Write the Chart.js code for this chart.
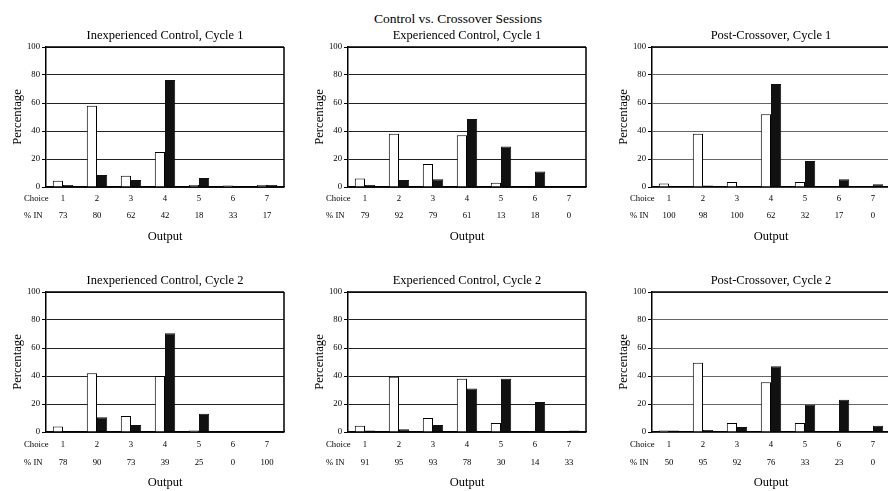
<!DOCTYPE html>
<html>
<head>
<meta charset="utf-8">
<script src="https://cdn.jsdelivr.net/npm/chart.js@4.4.0/dist/chart.umd.min.js"></script>
<style>
  html, body { margin: 0; padding: 0; background: #fff; overflow: hidden; }
  #wrap { position: relative; width: 888px; height: 491px; }
  .panel { position: absolute; }
  #main-title {
    position: absolute; left: 308px; width: 300px; top: 11px;
    text-align: center; font: 13.5px "Liberation Serif", serif; color: #000;
  }
</style>
</head>
<body>
<div id="wrap">
  <div id="main-title">Control vs. Crossover Sessions</div>
  <div class="panel" style="left:0px;top:25px;width:288px;height:220px"><canvas id="c1"></canvas></div>
  <div class="panel" style="left:302px;top:25px;width:288px;height:220px"><canvas id="c2"></canvas></div>
  <div class="panel" style="left:606px;top:25px;width:288px;height:220px"><canvas id="c3"></canvas></div>
  <div class="panel" style="left:0px;top:270px;width:288px;height:221px"><canvas id="c4"></canvas></div>
  <div class="panel" style="left:302px;top:270px;width:288px;height:221px"><canvas id="c5"></canvas></div>
  <div class="panel" style="left:606px;top:270px;width:288px;height:221px"><canvas id="c6"></canvas></div>
</div>
<script>
// ===== Data =====
const choices = ['1', '2', '3', '4', '5', '6', '7'];
const rowLabels = ['Choice', '% IN'];
const yTicks = [0, 20, 40, 60, 80, 100];

// Inexperienced Control, Cycle 1
const inexp1White = [4.5, 58, 8, 25, 1.5, 1, 1.5];
const inexp1Black = [1.5, 8.5, 5, 76.5, 6.5, 0.5, 1.5];
const inexp1PctIn = [73, 80, 62, 42, 18, 33, 17];

// Experienced Control, Cycle 1
const exp1White = [6, 38, 16.5, 37, 3, 0, 0];
const exp1Black = [1.5, 5, 5.5, 48.5, 29, 11, 0];
const exp1PctIn = [79, 92, 79, 61, 13, 18, 0];

// Post-Crossover, Cycle 1
const post1White = [2.5, 38, 3.5, 52, 3.5, 0, 0];
const post1Black = [0, 1, 0, 73.5, 18.5, 5.5, 2];
const post1PctIn = [100, 98, 100, 62, 32, 17, 0];

// Inexperienced Control, Cycle 2
const inexp2White = [4, 42, 11.5, 40, 1, 0.5, 0];
const inexp2Black = [0.5, 10.5, 5, 70.5, 13, 0.5, 0.5];
const inexp2PctIn = [78, 90, 73, 39, 25, 0, 100];

// Experienced Control, Cycle 2
const exp2White = [4.5, 39.5, 10, 38, 6.5, 0, 0.5];
const exp2Black = [1, 2, 5, 31, 38, 21.5, 1];
const exp2PctIn = [91, 95, 93, 78, 30, 14, 33];

// Post-Crossover, Cycle 2
const post2White = [1, 49.5, 6.5, 35.5, 6.5, 0, 0];
const post2Black = [1, 1.5, 3.5, 47, 19.5, 23, 4.5];
const post2PctIn = [50, 95, 92, 76, 33, 23, 0];

const FONT = '"Liberation Serif", "DejaVu Serif", serif';
const TICK_SIZE = 8.7;

// row layouts: spacing of the two label rows under each x axis
const row1 = { line: 17, pad: 3.5, height: 58 };
const row2 = { line: 18, pad: 4, height: 59 };

// draws the top and right edges of the plot box
const frameBox = {
  id: 'frameBox',
  afterDraw(chart) {
    const { ctx, chartArea: a } = chart;
    ctx.save();
    ctx.strokeStyle = '#000';
    ctx.lineWidth = 1.5;
    ctx.beginPath();
    ctx.moveTo(a.right, a.top);
    ctx.lineTo(a.right, a.bottom);
    ctx.moveTo(a.left, a.top);
    ctx.lineTo(a.right, a.top);
    ctx.stroke();
    ctx.restore();
  }
};

// row headers left of the x tick labels
const rowHeaders = {
  id: 'rowHeaders',
  afterDraw(chart, args, opts) {
    const { ctx, chartArea: a } = chart;
    const xs = chart.scales.x;
    ctx.save();
    ctx.fillStyle = '#000';
    ctx.font = TICK_SIZE + 'px ' + FONT;
    ctx.textAlign = 'left';
    ctx.textBaseline = 'middle';
    rowLabels.forEach((t, i) => {
      ctx.fillText(t, a.left - 22, xs.top + opts.pad + opts.line / 2 + i * opts.line);
    });
    ctx.restore();
  }
};

function makePanel(id, title, white, black, pctIn, gridColor, row) {
  return new Chart(document.getElementById(id), {
    type: 'bar',
    data: {
      labels: choices,
      datasets: [
        {
          data: white,
          backgroundColor: '#fff',
          borderColor: '#000',
          borderWidth: 1,
        },
        {
          data: black,
          backgroundColor: '#111',
          borderColor: '#111',
          borderWidth: 1,
        },
      ],
    },
    options: {
      responsive: true,
      maintainAspectRatio: false,
      animation: false,
      layout: { padding: { right: 4 } },
      datasets: { bar: { barPercentage: 1.0, categoryPercentage: 0.6 } },
      plugins: {
        legend: { display: false },
        tooltip: { enabled: false },
        rowHeaders: row,
      },
      scales: {
        // top axis only carries the panel title, centred over the plot
        top: {
          type: 'category',
          position: 'top',
          labels: choices,
          grid: { display: false, drawTicks: false },
          border: { display: false },
          ticks: { display: false },
          title: {
            display: true,
            text: title,
            color: '#000',
            font: { family: FONT, size: 12.5 },
            padding: { top: 3.5, bottom: 0 },
          },
          afterFit: (s) => { s.height = 22; },
        },
        x: {
          grid: { display: false, drawTicks: false },
          border: { color: '#000', width: 1.5 },
          ticks: {
            color: '#000',
            padding: row.pad,
            font: { family: FONT, size: TICK_SIZE, lineHeight: row.line / TICK_SIZE },
            callback: (v, i) => [choices[i], String(pctIn[i])],
          },
          title: {
            display: true,
            text: 'Output',
            color: '#000',
            font: { family: FONT, size: 12.5 },
            padding: { top: 0, bottom: 0.5 },
          },
          afterFit: (s) => { s.height = row.height; },
        },
        y: {
          min: 0,
          max: 100,
          afterBuildTicks: (s) => { s.ticks = yTicks.map(v => ({ value: v })); },
          grid: { color: gridColor, lineWidth: 1, tickLength: 4, tickColor: '#000' },
          border: { color: '#000', width: 1.5 },
          ticks: {
            color: '#000',
            padding: 2,
            font: { family: FONT, size: TICK_SIZE },
          },
          title: {
            display: true,
            text: 'Percentage',
            color: '#000',
            font: { family: FONT, size: 12.7 },
            padding: { top: 10, bottom: 0 },
          },
          afterFit: (s) => { s.width = 46; },
        },
      },
    },
    plugins: [frameBox, rowHeaders],
  });
}

makePanel('c1', 'Inexperienced Control, Cycle 1', inexp1White, inexp1Black, inexp1PctIn, '#222', row1);
makePanel('c2', 'Experienced Control, Cycle 1', exp1White, exp1Black, exp1PctIn, '#222', row1);
makePanel('c3', 'Post-Crossover, Cycle 1', post1White, post1Black, post1PctIn, '#666', row1);
makePanel('c4', 'Inexperienced Control, Cycle 2', inexp2White, inexp2Black, inexp2PctIn, '#222', row2);
makePanel('c5', 'Experienced Control, Cycle 2', exp2White, exp2Black, exp2PctIn, '#222', row2);
makePanel('c6', 'Post-Crossover, Cycle 2', post2White, post2Black, post2PctIn, '#666', row2);
</script>
</body>
</html>
